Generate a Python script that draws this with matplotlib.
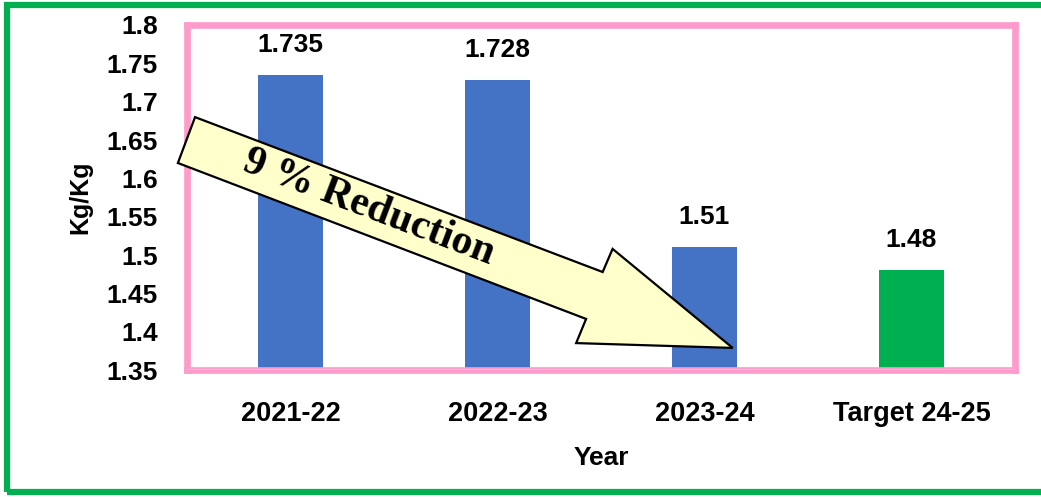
"""Kg/Kg per year bar chart with a '9 % Reduction' arrow callout."""

import matplotlib

matplotlib.use("Agg")
import matplotlib.pyplot as plt  # noqa: E402
from matplotlib.patches import Polygon, Rectangle  # noqa: E402

years = ["2021-22", "2022-23", "2023-24", "Target 24-25"]
values = [1.735, 1.728, 1.51, 1.48]
labels = ["1.735", "1.728", "1.51", "1.48"]
colors = ["#4472C4", "#4472C4", "#4472C4", "#00B050"]
yticks = [1.35, 1.4, 1.45, 1.5, 1.55, 1.6, 1.65, 1.7, 1.75, 1.8]
ytick_labels = ["1.35", "1.4", "1.45", "1.5", "1.55", "1.6", "1.65", "1.7", "1.75", "1.8"]

# callout arrow outline, in axes fractions
arrow_pts = [(0.0097, 0.733), (0.502, 0.284), (0.514, 0.351), (0.659, 0.064),
             (0.470, 0.078), (0.482, 0.148), (-0.011, 0.600)]

plt.rcParams["font.family"] = ["Liberation Sans", "DejaVu Sans"]
plt.rcParams["font.weight"] = "bold"

fig = plt.figure(figsize=(10.41, 4.97), dpi=100)
ax = fig.add_axes([187 / 1041, 127 / 497, 828 / 1041, 345 / 497])

x = list(range(len(years)))
bars = ax.bar(x, [v - 1.35 for v in values], bottom=1.35, width=0.31, color=colors, zorder=2)
for b, lab in zip(bars, labels):
    ax.annotate(lab, (b.get_x() + b.get_width() / 2, b.get_y() + b.get_height()),
                xytext=(0, 13), textcoords="offset points", ha="center", va="bottom",
                fontsize=19, fontweight="bold")

ax.set_xlim(-0.5, 3.5)
ax.set_ylim(1.35, 1.8)
ax.set_xticks(x)
ax.set_xticklabels(years, fontsize=19.5, fontweight="bold")
ax.set_yticks(yticks)
ax.set_yticklabels(ytick_labels, fontsize=19, fontweight="bold")
ax.tick_params(axis="both", length=0)
ax.tick_params(axis="y", pad=21)
ax.tick_params(axis="x", pad=22)
ax.set_xlabel("Year", fontsize=19, fontweight="bold", labelpad=14)
ax.set_ylabel("Kg/Kg", fontsize=18, fontweight="bold", labelpad=10)

for s in ax.spines.values():
    s.set_color("#FF9BCB")
    s.set_linewidth(4.8)
    s.set_zorder(3)
ax.axhline(1.35, color="#D0D0D0", linewidth=1.5, zorder=4)

arrow = Polygon(arrow_pts, closed=True, transform=ax.transAxes, clip_on=False,
                facecolor="#FFFFCC", edgecolor="black", linewidth=1.6, zorder=5)
ax.add_patch(arrow)
ax.text(0.220, 0.470, "9 % Reduction", transform=ax.transAxes, rotation=-20.8,
        rotation_mode="anchor", ha="center", va="center", fontsize=30,
        fontweight="bold", family="Liberation Serif", zorder=6)

# green outer frame (right side runs off the image)
fig.patches.append(Rectangle((7 / 1041, 5 / 497), 1.2, 487 / 497, transform=fig.transFigure,
                             fill=False, edgecolor="#00B050", linewidth=4.5))

fig.savefig("out.png", dpi=100)
plt.close(fig)
